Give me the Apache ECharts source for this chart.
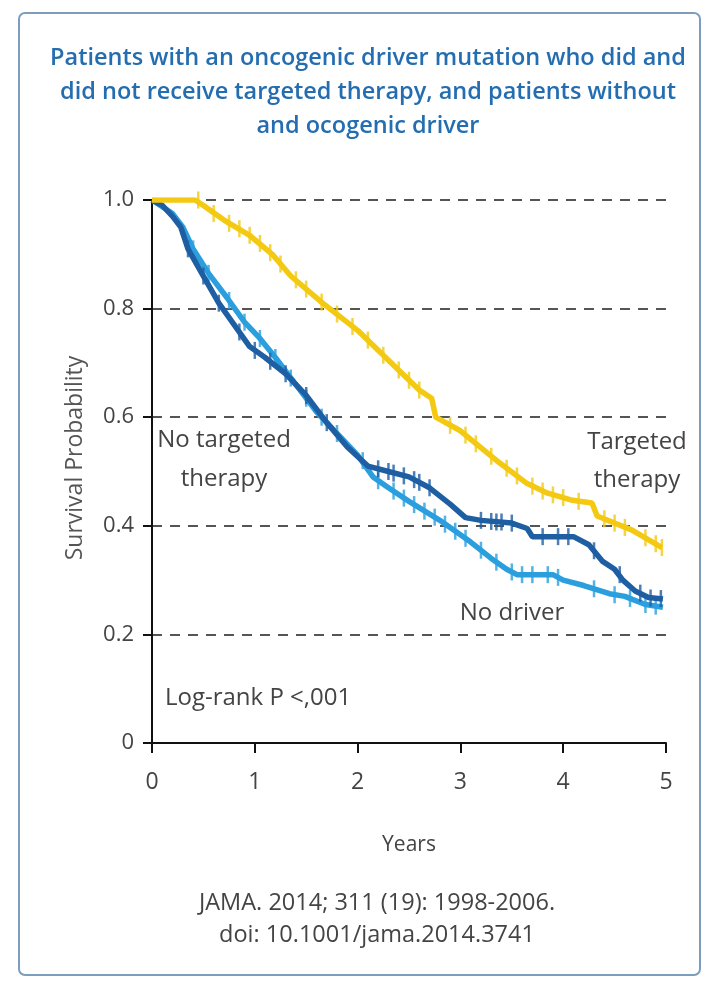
<!DOCTYPE html>
<html>
<head>
<meta charset="utf-8">
<script src="https://cdn.jsdelivr.net/npm/echarts@6/dist/echarts.min.js"></script>
<style>
html,body{margin:0;padding:0;background:#fff;}
#chart{width:715px;height:982px;}
</style>
</head>
<body>
<div id="chart"></div>
<script>
// ---- data ----
const titleLines = [
  'Patients with an oncogenic driver mutation who did and',
  'did not receive targeted therapy, and patients without',
  'and ocogenic driver'
];
const xTicks = [0, 1, 2, 3, 4, 5];
const yTickLabels = ['0', '0.2', '0.4', '0.6', '0.8', '1.0'];
const yAxisTitle = 'Survival Probability';

// Targeted therapy (yellow): [years, survival]
const targetedCurve = [[0,1],[0.42,1],[0.5,0.99],[0.7,0.963],[0.95,0.935],[1.17,0.90],[1.35,0.86],[1.66,0.81],[2.0,0.76],[2.3,0.705],[2.6,0.65],[2.72,0.635],[2.76,0.60],[3.0,0.575],[3.38,0.516],[3.64,0.479],[3.85,0.46],[4.09,0.447],[4.28,0.442],[4.33,0.418],[4.67,0.392],[4.96,0.36]];
const targetedCensor = [[0.45,1.0],[0.6,0.975],[0.75,0.957],[0.85,0.947],[0.95,0.935],[1.05,0.92],[1.15,0.903],[1.25,0.882],[1.4,0.853],[1.5,0.836],[1.65,0.812],[1.8,0.79],[1.95,0.767],[2.1,0.742],[2.25,0.714],[2.4,0.687],[2.5,0.668],[2.6,0.65],[2.9,0.585],[3.05,0.567],[3.15,0.551],[3.3,0.528],[3.45,0.506],[3.55,0.492],[3.7,0.473],[3.8,0.464],[3.9,0.457],[4.0,0.452],[4.15,0.445],[4.4,0.413],[4.5,0.405],[4.6,0.397],[4.8,0.378],[4.9,0.367],[4.96,0.36]];

// No targeted therapy (dark blue)
const noTargetedCurve = [[0,1],[0.1,0.99],[0.2,0.97],[0.28,0.95],[0.35,0.91],[0.5,0.86],[0.65,0.81],[0.8,0.77],[0.95,0.73],[1.1,0.71],[1.3,0.68],[1.5,0.64],[1.7,0.59],[1.9,0.545],[2.1,0.51],[2.3,0.50],[2.5,0.49],[2.7,0.47],[2.9,0.44],[3.05,0.415],[3.2,0.41],[3.5,0.405],[3.65,0.395],[3.7,0.38],[4.1,0.38],[4.25,0.365],[4.38,0.335],[4.5,0.32],[4.58,0.30],[4.7,0.28],[4.83,0.268],[4.97,0.265]];
const noTargetedCensor = [[0.35,0.91],[0.5,0.86],[0.65,0.81],[0.85,0.757],[1.0,0.723],[1.15,0.703],[1.3,0.68],[1.5,0.64],[1.7,0.59],[2.2,0.505],[2.3,0.50],[2.35,0.497],[2.45,0.492],[2.55,0.485],[2.6,0.48],[2.7,0.47],[3.2,0.41],[3.3,0.408],[3.35,0.407],[3.4,0.407],[3.5,0.405],[3.8,0.38],[3.95,0.38],[4.05,0.38],[4.3,0.354],[4.55,0.31],[4.75,0.276],[4.85,0.267],[4.95,0.266]];

// No driver (light blue)
const noDriverCurve = [[0,1],[0.2,0.975],[0.3,0.95],[0.4,0.91],[0.55,0.865],[0.73,0.82],[0.9,0.775],[1.05,0.745],[1.2,0.71],[1.4,0.66],[1.6,0.61],[1.8,0.57],[2.0,0.53],[2.15,0.49],[2.3,0.47],[2.5,0.445],[2.8,0.41],[3.1,0.37],[3.3,0.34],[3.45,0.32],[3.55,0.31],[3.9,0.31],[4.0,0.30],[4.2,0.29],[4.45,0.275],[4.6,0.27],[4.8,0.255],[4.97,0.25]];
const noDriverCensor = [[0.4,0.91],[0.55,0.865],[0.75,0.815],[0.9,0.775],[1.05,0.745],[1.2,0.71],[1.35,0.672],[1.5,0.635],[1.65,0.60],[1.8,0.57],[2.05,0.52],[2.2,0.483],[2.35,0.464],[2.45,0.451],[2.55,0.439],[2.65,0.427],[2.75,0.416],[2.85,0.403],[2.95,0.39],[3.05,0.377],[3.2,0.355],[3.35,0.333],[3.5,0.315],[3.6,0.31],[3.7,0.31],[3.85,0.31],[3.95,0.305],[4.3,0.284],[4.5,0.273],[4.65,0.266],[4.8,0.255],[4.9,0.252]];

const annotations = ['No targeted', 'therapy', 'Targeted', 'therapy', 'No driver', 'Log-rank P <,001'];
const footerLines = ['JAMA. 2014; 311 (19): 1998-2006.', 'doi: 10.1001/jama.2014.3741'];

// ---- chart ----
const FONT = "'Open Sans', 'Noto Sans', sans-serif";
const YELLOW = '#f3c912', DARK = '#1e5ea3', LIGHT = '#2b9fde';
const TXT = '#444';

const chart = echarts.init(document.getElementById('chart'), null, {renderer: 'canvas'});

function curveSeries(name, data, color, z) {
  return {name, type: 'line', data, showSymbol: false, symbol: 'none', z,
    lineStyle: {color, width: 5.5}, itemStyle: {color}, animation: false};
}
function censorSeries(name, data, color, z) {
  return {name, type: 'scatter', data, symbol: 'rect', symbolSize: [2.5, 17], z,
    itemStyle: {color}, animation: false};
}

const gridTop = 200, gridLeft = 152, gridRight = 49, gridBottom = 239;

function txt(x, y, text, size, align) {
  return {type: 'text', x, y, style: {text, fill: TXT, font: `${size}px ${FONT}`,
    textAlign: align || 'center', textVerticalAlign: 'middle'}};
}

chart.setOption({
  backgroundColor: '#fff',
  textStyle: {fontFamily: FONT},
  grid: {left: gridLeft, right: gridRight, top: gridTop, bottom: gridBottom, containLabel: false},
  xAxis: {
    type: 'value', min: 0, max: 5, interval: 1,
    axisLine: {show: true, onZero: false, lineStyle: {color: '#111', width: 2}},
    axisTick: {show: true, length: 10, lineStyle: {color: '#111', width: 2}},
    axisLabel: {color: TXT, fontSize: 23, margin: 28, fontFamily: FONT,
      formatter: v => xTicks.includes(v) ? String(v) : ''},
    splitLine: {show: false},
    name: 'Years', nameLocation: 'middle', nameGap: 92,
    nameTextStyle: {color: TXT, fontSize: 21, fontFamily: FONT}
  },
  yAxis: {
    type: 'value', min: 0, max: 1, interval: 0.2,
    axisLine: {show: true, lineStyle: {color: '#111', width: 2}},
    axisTick: {show: true, length: 9, lineStyle: {color: '#111', width: 2}},
    axisLabel: {color: TXT, fontSize: 22, margin: 18, fontFamily: FONT,
      formatter: (v) => yTickLabels[Math.round(v * 5)]},
    splitLine: {show: true, lineStyle: {color: '#555', width: 2, type: [10, 8]}}
  },
  series: [
    curveSeries('No driver', noDriverCurve, LIGHT, 2),
    censorSeries('No driver censored', noDriverCensor, LIGHT, 3),
    curveSeries('No targeted therapy', noTargetedCurve, DARK, 4),
    censorSeries('No targeted therapy censored', noTargetedCensor, DARK, 5),
    curveSeries('Targeted therapy', targetedCurve, YELLOW, 6),
    censorSeries('Targeted therapy censored', targetedCensor, YELLOW, 7)
  ],
  graphic: [
    {type: 'rect', z: -1, shape: {x: 19, y: 13, width: 681, height: 962, r: 6},
      style: {fill: '#fff', stroke: '#7d9dbf', lineWidth: 2}},
    ...titleLines.map((t, i) => ({type: 'text', x: 368, y: 58 + i * 34,
      style: {text: t, fill: '#236db0', font: `600 23.5px ${FONT}`, textAlign: 'center', textVerticalAlign: 'middle'}})),
    {type: 'text', x: 75, y: 458, rotation: Math.PI / 2,
      style: {text: yAxisTitle, fill: '#555', font: `23px ${FONT}`, textAlign: 'center', textVerticalAlign: 'middle'}},
    txt(224, 440, annotations[0], 24),
    txt(224, 479, annotations[1], 24),
    txt(637, 442, annotations[2], 24),
    txt(637, 480, annotations[3], 24),
    txt(512, 613, annotations[4], 24),
    txt(165, 698, annotations[5], 24, 'left'),
    ...footerLines.map((t, i) => txt(377, 903 + i * 32, t, 23.5))
  ]
});
</script>
</body>
</html>
